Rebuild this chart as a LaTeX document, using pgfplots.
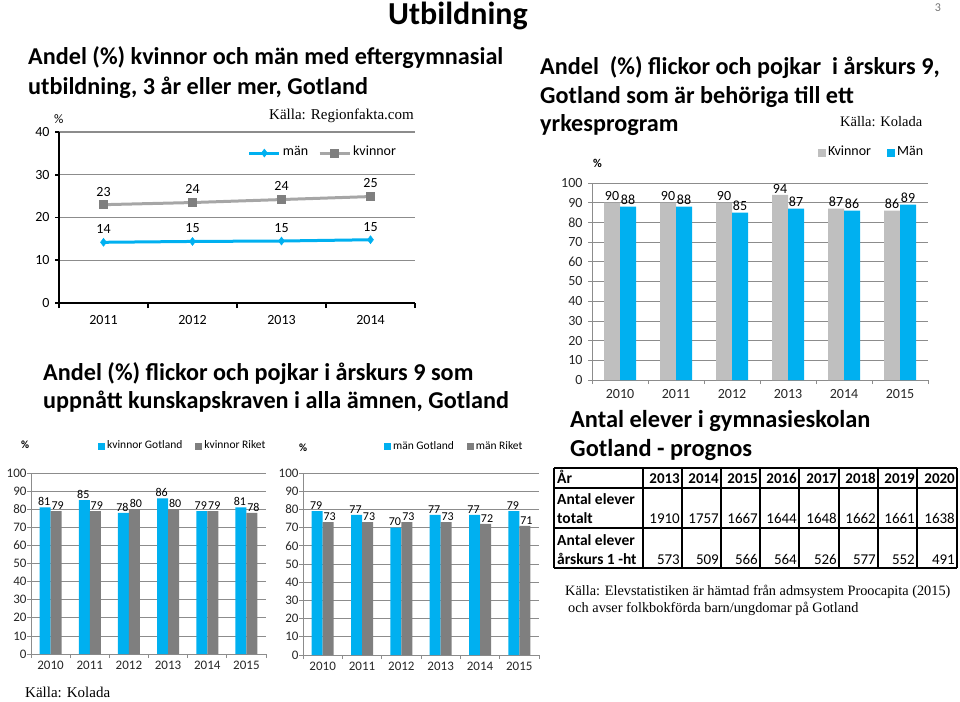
\documentclass[border=0pt]{standalone}
\usepackage{fontspec}
\setmainfont{Carlito}
\newfontfamily\garamond{Liberation Serif}
\usepackage{pgfplots}
\pgfplotsset{compat=1.18}

\definecolor{xlblue}{HTML}{00B0F0}
\definecolor{xlgray}{HTML}{7F7F7F}
\definecolor{xllight}{HTML}{BFBFBF}
\definecolor{xlline}{HTML}{A6A6A6}
\definecolor{gridgray}{HTML}{8C8C8C}

\newcommand\fs[1]{\fontsize{#1}{#1}\selectfont}

\pgfplotsset{
  kolada/.style={
    scale only axis,
    ybar=0pt, bar width=11pt,
    enlargelimits=false,
    ymin=0, ymax=100, ytick={0,10,...,100},
    xmin=0.5, xmax=6.5, xtick={1,...,6},
    xticklabels={2010,2011,2012,2013,2014,2015},
    minor xtick={0.5,1.5,...,6.5},
    major x tick style={draw=none},
    axis x line*=bottom, axis y line*=left,
    axis line style={-, gridgray, line width=0.8pt},
    tick style={gridgray, line width=0.8pt},
    tick align=outside, major tick length=4pt, minor tick length=4pt,
    ymajorgrids, grid style={gridgray, line width=0.8pt},
    tick label style={font=\fs{13}, text=black!85},
    /pgf/number format/assume math mode=true,
    nodes near coords,
    every node near coord/.append style={font=\fs{12}, text=black, inner sep=1.5pt},
    legend columns=2,
    legend image code/.code={\fill[##1, draw=none] (0pt,-3.5pt) rectangle (7pt,3.5pt);},
    legend style={draw=none, fill=none, inner sep=0pt, font=\fs{11.5},
      nodes={text height=1.6ex, text depth=0.4ex},
      /tikz/every even column/.append style={column sep=11pt}},
  },
  leftlab/.style={every node near coord/.append style={xshift=-1pt}},
  rightlab/.style={every node near coord/.append style={xshift=1.5pt}},
}

\begin{document}
\begin{tikzpicture}
\path[use as bounding box] (0,0) rectangle (960pt,-701pt);

% ---------- texts, pixel coordinates from the top left ----------
\begin{scope}[x=1pt, y=-1pt]
  \node[anchor=base west, inner sep=0, font=\bfseries\fs{32}] at (388,25) {Utbildning};
  \node[anchor=center, inner sep=0, font=\fs{12}, text=black!55] at (938,8) {3};

  \node[anchor=west, inner sep=0, font=\bfseries\fs{24.2}] at (28,58) {Andel (\%) kvinnor och män med eftergymnasial};
  \node[anchor=west, inner sep=0, font=\bfseries\fs{24.2}] at (28,88) {utbildning, 3 år eller mer, Gotland};
  \node[anchor=west, inner sep=0, font=\fs{13}] at (54,119) {\%};
  \node[anchor=west, inner sep=0, font=\garamond\fs{15}] at (269,116) {Källa: Regionfakta.com};

  \node[anchor=west, inner sep=0, font=\bfseries\fs{24.2}] at (43,374) {Andel (\%) flickor och pojkar i årskurs 9 som};
  \node[anchor=west, inner sep=0, font=\bfseries\fs{24.2}] at (43,402) {uppnått kunskapskraven i alla ämnen, Gotland};
  \node[anchor=west, inner sep=0, font=\bfseries\fs{11}] at (21,445) {\%};
  \node[anchor=west, inner sep=0, font=\bfseries\fs{11}] at (299,448) {\%};
  \node[anchor=west, inner sep=0, font=\garamond\fs{15}] at (25,692) {Källa: Kolada};

  \node[anchor=west, inner sep=0, font=\bfseries\fs{24.2}] at (540,68) {Andel~~(\%) flickor och pojkar~~i årskurs 9,};
  \node[anchor=west, inner sep=0, font=\bfseries\fs{24.2}] at (540,97) {Gotland som är behöriga till ett};
  \node[anchor=west, inner sep=0, font=\bfseries\fs{24.2}] at (540,125) {yrkesprogram};
  \node[anchor=west, inner sep=0, font=\garamond\fs{14.5}] at (840,122) {Källa: Kolada};
  \node[anchor=west, inner sep=0, font=\bfseries\fs{12}] at (593,163) {\%};

  \node[anchor=west, inner sep=0, font=\bfseries\fs{24.4}] at (570,421) {Antal elever i gymnasieskolan};
  \node[anchor=west, inner sep=0, font=\bfseries\fs{24.4}] at (570,450) {Gotland - prognos};

  % prognos table
  \foreach \x in {554,643,682,721,760,799,839,878,917,957}
    \draw[line width=1.2pt] (\x,468) -- (\x,568);
  \foreach \y in {468,488,528,568}
    \draw[line width=1.2pt] (554,\y) -- (957,\y);
  \node[anchor=base west, inner sep=0, font=\bfseries\fs{15.5}] at (557,483) {År};
  \node[anchor=base west, inner sep=0, font=\bfseries\fs{15.5}] at (557,504) {Antal elever};
  \node[anchor=base west, inner sep=0, font=\bfseries\fs{15.5}] at (557,523) {totalt};
  \node[anchor=base west, inner sep=0, font=\bfseries\fs{15.5}] at (557,545) {Antal elever};
  \node[anchor=base west, inner sep=0, font=\bfseries\fs{15.5}] at (557,564) {årskurs 1 -ht};
  \foreach \r/\yr/\tot/\ak in {682/2013/1910/573, 721/2014/1757/509,
      760/2015/1667/566, 799/2016/1644/564, 839/2017/1648/526,
      878/2018/1662/577, 917/2019/1661/552, 957/2020/1638/491} {
    \node[anchor=base east, inner sep=0, font=\bfseries\fs{15}] at (\r-2,483) {\yr};
    \node[anchor=base east, inner sep=0, font=\fs{15}] at (\r-2,523) {\tot};
    \node[anchor=base east, inner sep=0, font=\fs{15}] at (\r-2,564) {\ak};
  }

  \node[anchor=west, inner sep=0, font=\garamond\fs{14.3}] at (565,592) {Källa: Elevstatistiken är hämtad från admsystem Proocapita (2015)};
  \node[anchor=west, inner sep=0, font=\garamond\fs{14.3}] at (568,609) {och avser folkbokförda barn/ungdomar på Gotland};
\end{scope}

% ---------- eftergymnasial utbildning (line chart) ----------
\begin{axis}[
    at={(59pt,-303pt)}, anchor=south west,
    scale only axis, width=356pt, height=171pt,
    xmin=0.5, xmax=4.5, xtick={1,2,3,4},
    xticklabels={2011,2012,2013,2014},
    minor xtick={0.5,1.5,...,4.5},
    major x tick style={draw=none},
    ymin=0, ymax=40, ytick={0,10,...,40},
    axis x line*=bottom, axis y line*=left,
    axis line style={-, black, line width=2.2pt},
    tick style={black, line width=1.6pt},
    tick align=outside, major tick length=4pt, minor tick length=5pt,
    ymajorgrids, grid style={gridgray, line width=1.4pt},
    tick label style={font=\fs{14}},
    xticklabel style={yshift=-5pt},
    yticklabel style={xshift=-2pt},
    /pgf/number format/assume math mode=true,
    point meta=explicit symbolic,
    nodes near coords,
    every node near coord/.append style={font=\fs{14}, text=black, yshift=5pt},
    legend columns=2,
    legend image code/.code={\draw[mark repeat=2, mark phase=2, #1]
      plot coordinates {(0pt,0pt) (15pt,0pt) (30pt,0pt)};},
    legend style={at={(0.53,0.877)}, anchor=west, draw=none, fill=none,
      inner sep=0pt, font=\fs{14}, nodes={text height=1.6ex, text depth=0.4ex},
      /tikz/every even column/.append style={column sep=8pt}},
  ]
  \addplot[xlblue, line width=3pt, mark=diamond*, mark size=4pt,
    mark options={fill=xlblue, draw=xlblue, line width=0.5pt}]
    table[meta=label] {
      x y label
      1 14.2 14
      2 14.4 15
      3 14.5 15
      4 14.8 15
    };
  \addlegendentry{män}
  \addplot[xlline, line width=3pt, mark=square*, mark size=4pt,
    mark options={fill=xlgray, draw=xlgray, line width=0.5pt}]
    table[meta=label] {
      x y label
      1 23.0 23
      2 23.5 24
      3 24.2 24
      4 24.9 25
    };
  \addlegendentry{kvinnor}
\end{axis}

% ---------- kunskapskraven, kvinnor ----------
\begin{axis}[kolada,
    at={(31pt,-654pt)}, anchor=south west, width=235pt, height=181pt,
    yticklabel style={xshift=3pt},
    legend style={at={(0.285,1.149)}, anchor=west},
  ]
  \addplot[fill=xlblue, draw=none, leftlab] coordinates {(1,81) (2,85) (3,78) (4,86) (5,79) (6,81)};
  \addlegendentry{kvinnor Gotland}
  \addplot[fill=xlgray, draw=none, rightlab] coordinates {(1,79) (2,79) (3,80) (4,80) (5,79) (6,78)};
  \addlegendentry{kvinnor Riket}
\end{axis}

% ---------- kunskapskraven, män ----------
\begin{axis}[kolada,
    at={(303pt,-655pt)}, anchor=south west, width=236pt, height=182pt,
    yticklabel style={xshift=3pt},
    legend style={at={(0.343,1.143)}, anchor=west},
  ]
  \addplot[fill=xlblue, draw=none, leftlab] coordinates {(1,79) (2,77) (3,70) (4,77) (5,77) (6,79)};
  \addlegendentry{män Gotland}
  \addplot[fill=xlgray, draw=none, rightlab] coordinates {(1,73) (2,73) (3,73) (4,73) (5,72) (6,71)};
  \addlegendentry{män Riket}
\end{axis}

% ---------- behöriga till yrkesprogram ----------
\begin{axis}[kolada,
    at={(592pt,-380pt)}, anchor=south west, width=336pt, height=197pt,
    bar width=16pt,
    tick label style={font=\fs{14}},
    xticklabel style={yshift=-2pt},
    yticklabel style={xshift=-2pt},
    every node near coord/.append style={font=\fs{14}},
    legend image code/.code={\fill[#1, draw=none] (0pt,-4pt) rectangle (8pt,4pt);},
    legend style={at={(0.672,1.152)}, anchor=west, font=\fs{14},
      /tikz/every even column/.append style={column sep=14pt}},
  ]
  \addplot[fill=xllight, draw=none] coordinates {(1,90) (2,90) (3,90) (4,94) (5,87) (6,86)};
  \addlegendentry{Kvinnor}
  \addplot[fill=xlblue, draw=none] coordinates {(1,88) (2,88) (3,85) (4,87) (5,86) (6,89)};
  \addlegendentry{Män}
\end{axis}
\end{tikzpicture}
\end{document}
